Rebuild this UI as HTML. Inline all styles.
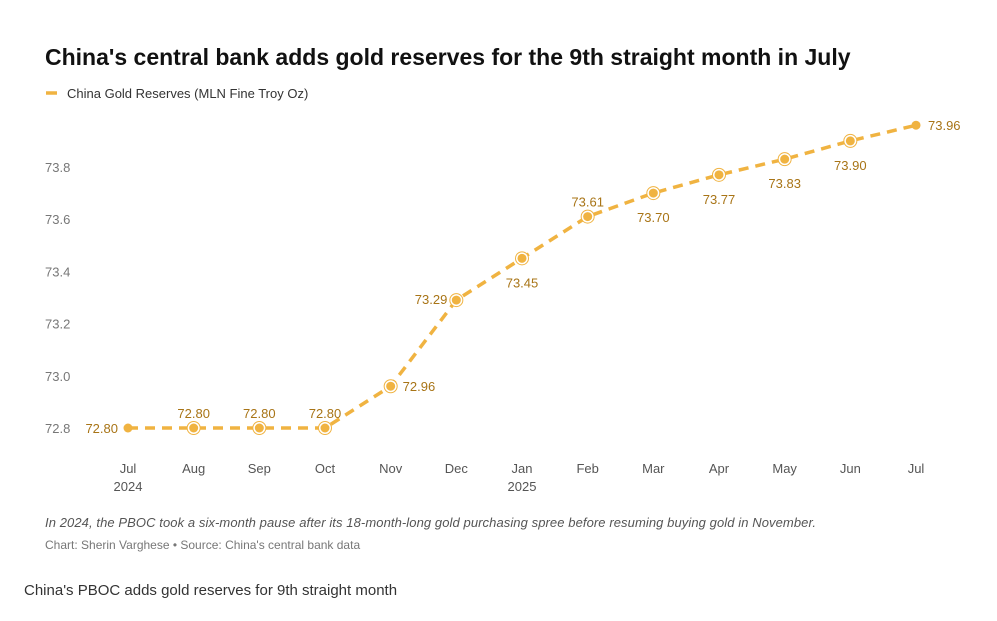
<!DOCTYPE html>
<html><head><meta charset="utf-8"><style>
body{margin:0;width:997px;height:616px;background:#fff;font-family:"Liberation Sans",sans-serif;overflow:hidden}
</style></head><body>
<svg width="997" height="616">
<text x="45" y="65" font-size="23" font-weight="bold" fill="#111">China's central bank adds gold reserves for the 9th straight month in July</text>
<g>
<line x1="46" y1="93" x2="57" y2="93" stroke="#f0b341" stroke-width="3.5"/>
<text x="67" y="98" font-size="13" fill="#333">China Gold Reserves (MLN Fine Troy Oz)</text>
</g>
<g id="yaxis"></g>
<g id="xaxis"></g>
<g id="plot"></g>
<text x="45" y="527" font-size="13" font-style="italic" fill="#555" textLength="771">In 2024, the PBOC took a six-month pause after its 18-month-long gold purchasing spree before resuming buying gold in November.</text>
<text x="45" y="549" font-size="12" fill="#777">Chart: Sherin Varghese • Source: China's central bank data</text>
<text x="24" y="595" font-size="15" fill="#333">China's PBOC adds gold reserves for 9th straight month</text>
</svg>
<script>
const months=["Jul","Aug","Sep","Oct","Nov","Dec","Jan","Feb","Mar","Apr","May","Jun","Jul"];
const years=["2024","","","","","","2025","","","","","",""];
const values=[72.80,72.80,72.80,72.80,72.96,73.29,73.45,73.61,73.70,73.77,73.83,73.90,73.96];
const yTicks=[72.8,73.0,73.2,73.4,73.6,73.8];
const labelPos=["left","above","above","above","right","left","below","above","below","below","below","below","right"];
const NS="http://www.w3.org/2000/svg";
const x=i=>128+i*(916-128)/12;
const y=v=>428-(v-72.8)*261;
function mk(t,a,p){const e=document.createElementNS(NS,t);for(const k in a)e.setAttribute(k,a[k]);p.appendChild(e);return e;}
const ya=document.getElementById('yaxis'),xa=document.getElementById('xaxis'),pl=document.getElementById('plot');
yTicks.forEach(v=>{const t=mk('text',{x:45,y:y(v)+5,'font-size':13,fill:'#777'},ya);t.textContent=v.toFixed(1);

});
months.forEach((m,i)=>{const t=mk('text',{x:x(i),y:473,'font-size':13,fill:'#555','text-anchor':'middle'},xa);t.textContent=m;


if(years[i]){const u=mk('text',{x:x(i),y:491,'font-size':13,fill:'#555','text-anchor':'middle'},xa);u.textContent=years[i];

}});
const pts=values.map((v,i)=>x(i)+','+y(v)).join(' ');
const ln=mk('polyline',{points:pts,fill:'none',stroke:'#f0b341','stroke-width':3.5,'stroke-dasharray':'10 7'},pl);


values.forEach((v,i)=>{const cx=x(i),cy=y(v);
if(i>0&&i<values.length-1){const r=mk('circle',{cx,cy,r:6.5,fill:'#fff',stroke:'#f0b341','stroke-width':1},pl);}
const c=mk('circle',{cx,cy,r:4.5,fill:'#f0b341'},pl);


let lx=cx,ly=cy,anc='middle';const p=labelPos[i];
if(p==='left'){lx=cx-10;ly=cy+5;anc='end';}
else if(p==='right'){lx=cx+12;ly=cy+5;anc='start';}
else if(p==='above'){ly=cy-10;}
else{ly=cy+29;}
if(i===5){lx=cx-9;ly=cy+4;}
const t=mk('text',{x:lx,y:ly,'font-size':13,fill:'#a87416','text-anchor':anc},pl);t.textContent=v.toFixed(2);

});
</script>
</body></html>
